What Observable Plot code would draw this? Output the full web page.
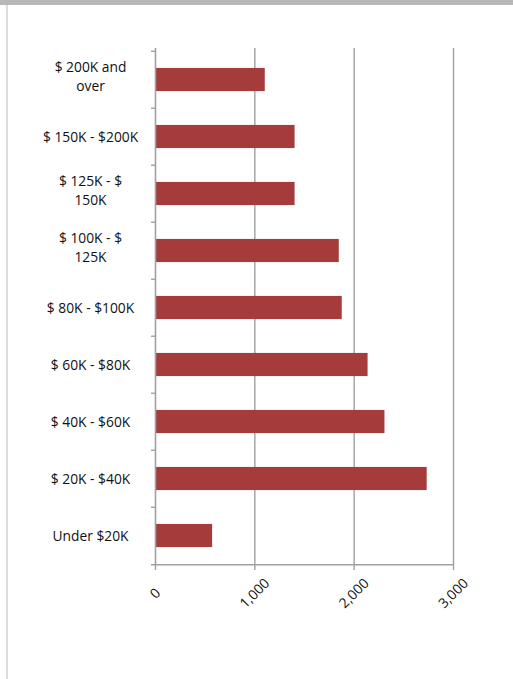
<!DOCTYPE html>
<html><head><meta charset="utf-8">
<script src="https://cdn.jsdelivr.net/npm/d3@7"></script>
<script src="https://cdn.jsdelivr.net/npm/@observablehq/plot@0.6"></script>
<style>
html,body{margin:0;padding:0;background:#fff;}
#wrap{position:relative;width:513px;height:679px;overflow:hidden;background:#fff;}
#topbar{position:absolute;left:0;top:0;width:513px;height:5px;background:#b7b7b7;}
#leftline{position:absolute;left:6px;top:5px;width:2px;height:674px;background:#dcdcdc;}
#chart{position:absolute;left:0;top:0;}
</style></head><body>
<div id="wrap"><div id="chart"></div><div id="topbar"></div><div id="leftline"></div></div>
<script>
const categories = ["$ 200K and over", "$ 150K - $200K", "$ 125K - $ 150K", "$ 100K - $ 125K", "$ 80K - $100K", "$ 60K - $80K", "$ 40K - $60K", "$ 20K - $40K", "Under $20K"];
const values = [1105, 1405, 1405, 1850, 1880, 2140, 2310, 2735, 575];
const tickLabels = ["$ 200K and\nover", "$ 150K - $200K", "$ 125K - $\n150K", "$ 100K - $\n125K", "$ 80K - $100K", "$ 60K - $80K", "$ 40K - $60K", "$ 20K - $40K", "Under $20K"];
const xTicks = [0, 1000, 2000, 3000];

const data = categories.map((c, i) => ({category: c, value: values[i]}));
const W = 513, H = 679, mT = 48, mB = 113, mL = 155, mR = 60;
const step = (H - mT - mB) / categories.length;
const barH = 23.7;
const inset = (step - barH) / 2;
const axisColor = "#a0a0a0";
const fmtY = d => tickLabels[categories.indexOf(d)];
const multi = categories.filter(c => fmtY(c).includes("\n"));
const single = categories.filter(c => !fmtY(c).includes("\n"));
const yText = {tickSize: 0, tickPadding: 65, textAnchor: "middle", lineHeight: 1.38, fontSize: 13.8, tickFormat: fmtY, label: null, fill: "#111"};

const chart = Plot.plot({
  width: W, height: H,
  marginTop: mT, marginBottom: mB, marginLeft: mL, marginRight: mR,
  style: {fontFamily: "'Open Sans', sans-serif", fontSize: "13.8px", color: "#000", background: "transparent"},
  x: {domain: [0, 3000], ticks: xTicks},
  y: {domain: categories, padding: 0},
  marks: [
    Plot.ruleX(xTicks.slice(1), {stroke: axisColor, strokeWidth: 1.4}),
    Plot.barX(data, {x: "value", y: "category", fill: "#a53b3b", insetTop: inset, insetBottom: inset}),
    Plot.ruleX([0], {stroke: axisColor, strokeWidth: 1.6}),
    Plot.ruleY([categories[categories.length - 1]], {x1: 0, x2: 3000, dy: step / 2, insetLeft: -4, stroke: axisColor, strokeWidth: 1.6}),
    Plot.axisY({tickSize: 4, tickFormat: () => "", dy: -step / 2, stroke: axisColor, strokeWidth: 1.4, label: null}),
    Plot.axisY(single, {...yText, dy: -1.5}),
    Plot.axisY(multi, {...yText, dy: -5}),
    Plot.axisX({ticks: xTicks, tickSize: 4, tickFormat: () => "", stroke: axisColor, strokeWidth: 1.4, label: null}),
    Plot.axisX({ticks: xTicks, tickSize: 0, tickPadding: 27, tickRotate: -45, textAnchor: "middle", lineAnchor: "middle", fontSize: 13.8, tickFormat: d3.format(","), label: null, fill: "#111"})
  ]
});
document.getElementById("chart").append(chart);
</script>
</body></html>
